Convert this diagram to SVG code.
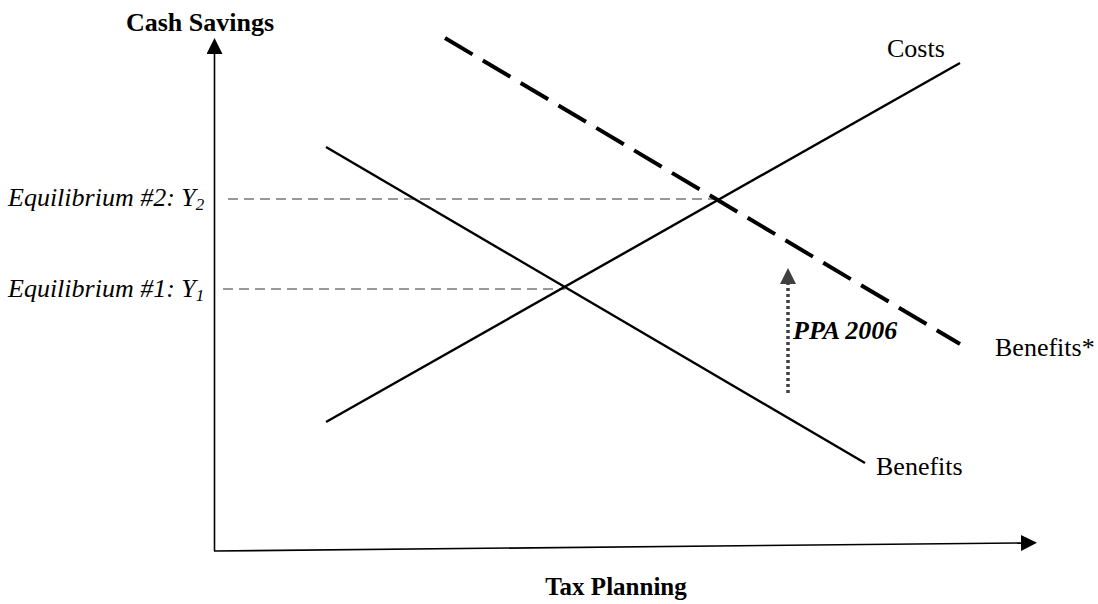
<svg xmlns="http://www.w3.org/2000/svg" width="1098" height="604" viewBox="0 0 1098 604">
<style>
.lbl{font-family:"Liberation Serif","Times New Roman",serif;font-size:26px;fill:#000}
.b{font-weight:bold}
.i{font-style:italic}
.axis{stroke:#000;stroke-width:1.6;fill:none}
.curve{stroke:#000;stroke-width:2.4;fill:none}
.shifted{stroke:#000;stroke-width:4;stroke-dasharray:32 12;fill:none}
.guide{stroke:#999;stroke-width:2.2;stroke-dasharray:10 6;fill:none}
.shift{stroke:#404040;stroke-width:3.5;stroke-dasharray:3 3;fill:none}
</style>
<defs>
<marker id="ah" viewBox="0 0 16 16" refX="0" refY="8" markerWidth="16" markerHeight="16" markerUnits="userSpaceOnUse" orient="auto">
<path d="M0,0 L16,8 L0,16 Z" fill="#000"/>
</marker>
<marker id="ahg" viewBox="0 0 16 16" refX="0" refY="8" markerWidth="16" markerHeight="16" markerUnits="userSpaceOnUse" orient="auto">
<path d="M0,0 L16,8 L0,16 Z" fill="#404040"/>
</marker>
</defs>
<rect width="1098" height="604" fill="#fff"/>
<g id="connectors">
<line id="y-axis" class="axis" x1="214.5" y1="551" x2="214.5" y2="54" marker-end="url(#ah)"/>
<line id="x-axis" class="axis" x1="214" y1="551" x2="1021" y2="543" marker-end="url(#ah)"/>
<line id="eq2-guide" class="guide" x1="228" y1="199" x2="718" y2="199"/>
<line id="eq1-guide" class="guide" x1="223" y1="289" x2="565" y2="289"/>
<line id="costs" class="curve" x1="326" y1="422" x2="960" y2="63"/>
<line id="benefits" class="curve" x1="326" y1="147" x2="865" y2="463"/>
<line id="benefits-star" class="shifted" x1="445" y1="38" x2="960" y2="344"/>
<line id="ppa-shift" class="shift" x1="788" y1="393" x2="788" y2="284" marker-end="url(#ahg)"/>
</g>
<g id="label-cash-savings"><text class="lbl b" x="200" y="31" text-anchor="middle">Cash Savings</text></g>
<g id="label-tax-planning"><text class="lbl b" x="616" y="595" text-anchor="middle" style="font-size:25px">Tax Planning</text></g>
<g id="label-eq2"><text class="lbl i" x="8" y="206">Equilibrium #2: Y<tspan font-size="17" dy="4">2</tspan></text></g>
<g id="label-eq1"><text class="lbl i" x="8" y="297">Equilibrium #1: Y<tspan font-size="17" dy="4">1</tspan></text></g>
<g id="label-costs"><text class="lbl" x="887" y="57">Costs</text></g>
<g id="label-benefits"><text class="lbl" x="876" y="475">Benefits</text></g>
<g id="label-benefits-star"><text class="lbl" x="995" y="356">Benefits*</text></g>
<g id="label-ppa"><text class="lbl b i" x="793" y="339">PPA 2006</text></g>
</svg>
